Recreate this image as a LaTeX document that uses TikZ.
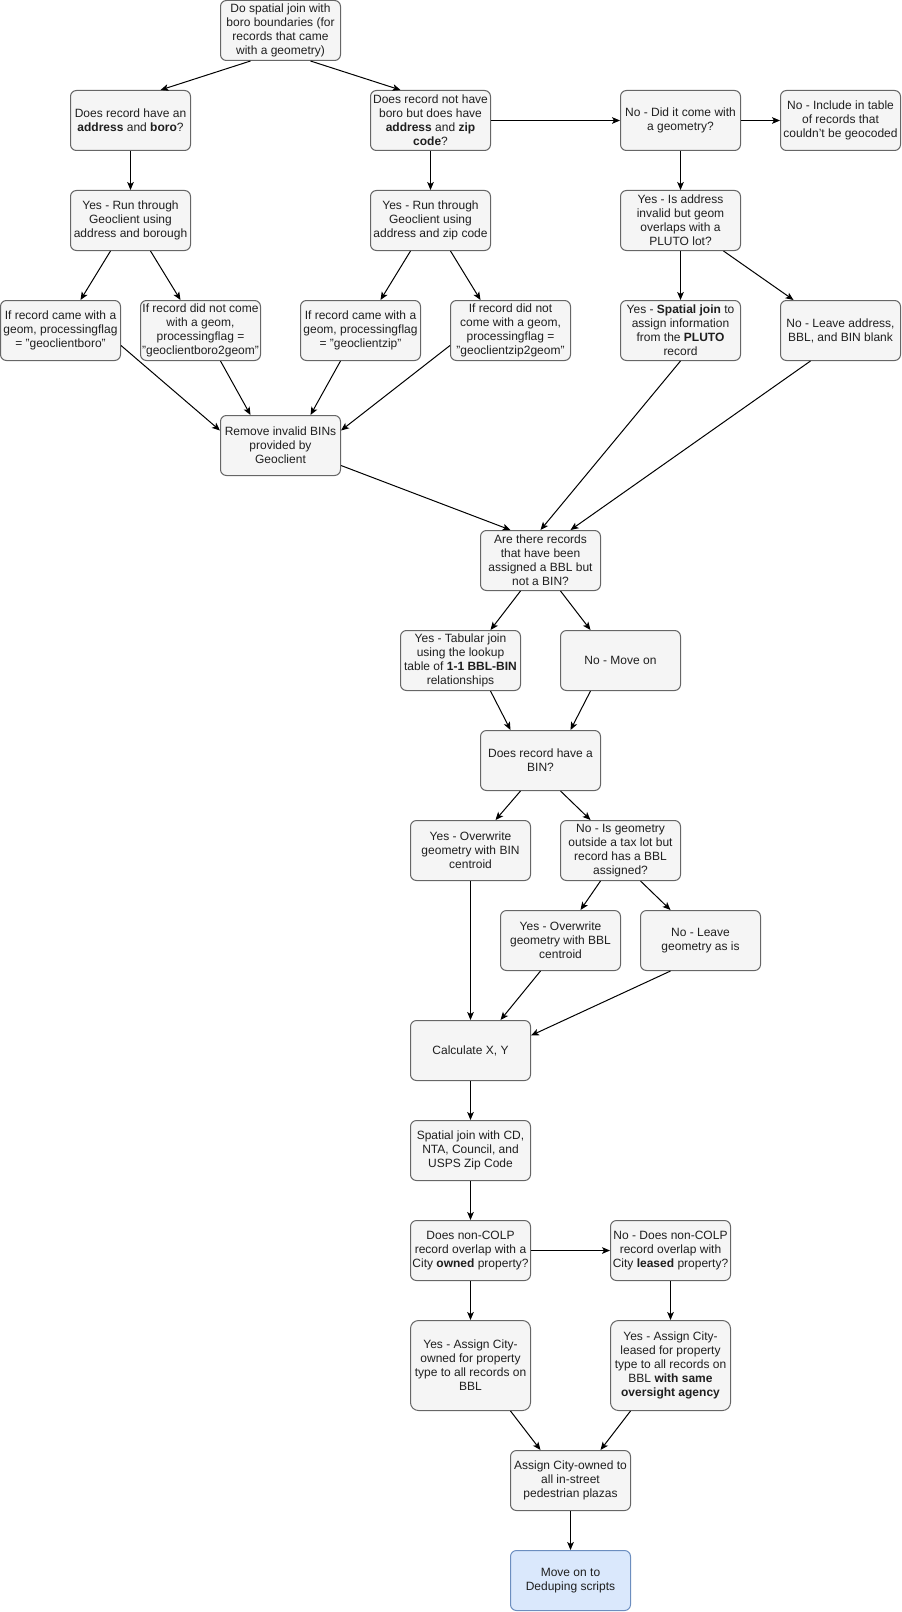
\documentclass[tikz,border=0pt]{standalone}
\usepackage{fontspec}
\setmainfont{Liberation Sans}
\usetikzlibrary{arrows.meta,calc}
\definecolor{boxfill}{HTML}{F5F5F5}
\definecolor{boxstroke}{HTML}{666666}
\definecolor{textc}{HTML}{1F1F1F}
\definecolor{bluefill}{HTML}{DAE8FC}
\definecolor{bluestroke}{HTML}{6C8EBF}
\tikzset{
  box/.style={draw=boxstroke, fill=boxfill, rounded corners=4.5pt, minimum width=90pt,
    minimum height=45pt, inner sep=0pt, align=center, text=textc,
    font=\fontsize{9}{10.5}\selectfont, line width=0.75pt},
  tallbox/.style={minimum height=67.5pt, rounded corners=6pt},
  bluebox/.style={fill=bluefill, draw=bluestroke},
  conn/.style={draw=black, line width=0.75pt, -{Stealth[length=6pt, width=5pt, inset=1.5pt]}}
}
\begin{document}
\begin{tikzpicture}[x=0.75pt, y=-0.75pt]
\useasboundingbox (-0.5,-0.5) rectangle (900.5,1611.5);
\node[box] (top) at (280,30) {Do spatial join with\\boro boundaries (for\\records that came\\with a geometry)};
\node[box] (A) at (130,120) {Does record have an\\\textbf{address} and \textbf{boro}?};
\node[box] (B) at (430,120) {Does record not have\\boro but does have\\\textbf{address} and \textbf{zip}\\\textbf{code}?};
\node[box] (C) at (680,120) {No - Did it come with\\a geometry?};
\node[box] (D) at (840,120) {No - Include in table\\of records that\\couldn't be geocoded};
\node[box] (A2) at (130,220) {Yes - Run through\\Geoclient using\\address and borough};
\node[box] (B2) at (430,220) {Yes - Run through\\Geoclient using\\address and zip code};
\node[box] (C2) at (680,220) {Yes - Is address\\invalid but geom\\overlaps with a\\PLUTO lot?};
\node[box] (A3a) at (60,330) {If record came with a\\geom, processingflag\\= "geoclientboro"};
\node[box] (A3b) at (200,330) {If record did not come\\with a geom,\\processingflag =\\"geoclientboro2geom"};
\node[box] (B3a) at (360,330) {If record came with a\\geom, processingflag\\= "geoclientzip"};
\node[box] (B3b) at (510,330) {If record did not\\come with a geom,\\processingflag =\\"geoclientzip2geom"};
\node[box] (C3a) at (680,330) {Yes - \textbf{Spatial join} to\\assign information\\from the \textbf{PLUTO}\\record};
\node[box] (C3b) at (840,330) {No - Leave address,\\BBL, and BIN blank};
\node[box] (rem) at (280,445) {Remove invalid BINs\\provided by\\Geoclient};
\node[box] (are) at (540,560) {Are there records\\that have been\\assigned a BBL but\\not a BIN?};
\node[box] (tab) at (460,660) {Yes - Tabular join\\using the lookup\\table of \textbf{1-1 BBL-BIN}\\relationships};
\node[box] (nomove) at (620,660) {No - Move on};
\node[box] (bin) at (540,760) {Does record have a\\BIN?};
\node[box] (owbin) at (470,850) {Yes - Overwrite\\geometry with BIN\\centroid};
\node[box] (isgeom) at (620,850) {No - Is geometry\\outside a tax lot but\\record has a BBL\\assigned?};
\node[box] (owbbl) at (560,940) {Yes - Overwrite\\geometry with BBL\\centroid};
\node[box] (leave) at (700,940) {No - Leave\\geometry as is};
\node[box] (calc) at (470,1050) {Calculate X, Y};
\node[box] (sj) at (470,1150) {Spatial join with CD,\\NTA, Council, and\\USPS Zip Code};
\node[box] (owned) at (470,1250) {Does non-COLP\\record overlap with a\\City \textbf{owned} property?};
\node[box] (leased) at (670,1250) {No - Does non-COLP\\record overlap with\\City \textbf{leased} property?};
\node[box,tallbox] (yowned) at (470,1365) {Yes - Assign City-\\owned for property\\type to all records on\\BBL};
\node[box,tallbox] (yleased) at (670,1365) {Yes - Assign City-\\leased for property\\type to all records on\\BBL \textbf{with same}\\\textbf{oversight agency}};
\node[box] (plaza) at (570,1480) {Assign City-owned to\\all in-street\\pedestrian plazas};
\node[box,bluebox] (move) at (570,1580) {Move on to\\Deduping scripts};

\draw[conn] ($(top.south)+(-30,0)$) -- ($(A.north)+(30,0)$);
\draw[conn] ($(top.south)+(30,0)$) -- ($(B.north)+(-30,0)$);
\draw[conn] (A.south) -- (A2.north);
\draw[conn] (B.east) -- (C.west);
\draw[conn] (C.east) -- (D.west);
\draw[conn] (B.south) -- (B2.north);
\draw[conn] (C.south) -- (C2.north);
\draw[conn] ($(A2.south)+(-20,0)$) -- ($(A3a.north)+(20,0)$);
\draw[conn] ($(A2.south)+(20,0)$) -- ($(A3b.north)+(-20,0)$);
\draw[conn] ($(B2.south)+(-20,0)$) -- ($(B3a.north)+(20,0)$);
\draw[conn] ($(B2.south)+(20,0)$) -- ($(B3b.north)+(-30,0)$);
\draw[conn] (C2.south) -- (C3a.north);
\draw[conn] ($(C2.south)+(43,0)$) -- ($(C3b.north)+(-47,0)$);
\draw[conn] ($(A3a.east)+(0,15)$) -- ($(rem.west)+(0,-15)$);
\draw[conn] ($(A3b.south)+(20,0)$) -- ($(rem.north)+(-30,0)$);
\draw[conn] ($(B3a.south)+(-20,0)$) -- ($(rem.north)+(30,0)$);
\draw[conn] ($(B3b.west)+(0,15)$) -- ($(rem.east)+(0,-15)$);
\draw[conn] ($(rem.east)+(0,20)$) -- ($(are.north)+(-30,0)$);
\draw[conn] (C3a.south) -- (are.north);
\draw[conn] ($(C3b.south)+(-30,0)$) -- ($(are.north)+(30,0)$);
\draw[conn] ($(are.south)+(-20,0)$) -- ($(tab.north)+(30,0)$);
\draw[conn] ($(are.south)+(20,0)$) -- ($(nomove.north)+(-30,0)$);
\draw[conn] ($(tab.south)+(30,0)$) -- ($(bin.north)+(-30,0)$);
\draw[conn] ($(nomove.south)+(-30,0)$) -- ($(bin.north)+(30,0)$);
\draw[conn] ($(bin.south)+(-20,0)$) -- ($(owbin.north)+(25,0)$);
\draw[conn] ($(bin.south)+(20,0)$) -- ($(isgeom.north)+(-30,0)$);
\draw[conn] ($(isgeom.south)+(-20,0)$) -- ($(owbbl.north)+(20,0)$);
\draw[conn] ($(isgeom.south)+(20,0)$) -- ($(leave.north)+(-30,0)$);
\draw[conn] (owbin.south) -- (calc.north);
\draw[conn] ($(owbbl.south)+(-20,0)$) -- ($(calc.north)+(30,0)$);
\draw[conn] ($(leave.south)+(-30,0)$) -- ($(calc.east)+(0,-15)$);
\draw[conn] (calc.south) -- (sj.north);
\draw[conn] (sj.south) -- (owned.north);
\draw[conn] (owned.east) -- (leased.west);
\draw[conn] (owned.south) -- (yowned.north);
\draw[conn] (leased.south) -- (yleased.north);
\draw[conn] ($(yowned.south)+(40,0)$) -- ($(plaza.north)+(-30,0)$);
\draw[conn] ($(yleased.south)+(-40,0)$) -- ($(plaza.north)+(30,0)$);
\draw[conn] (plaza.south) -- (move.north);
\end{tikzpicture}
\end{document}
